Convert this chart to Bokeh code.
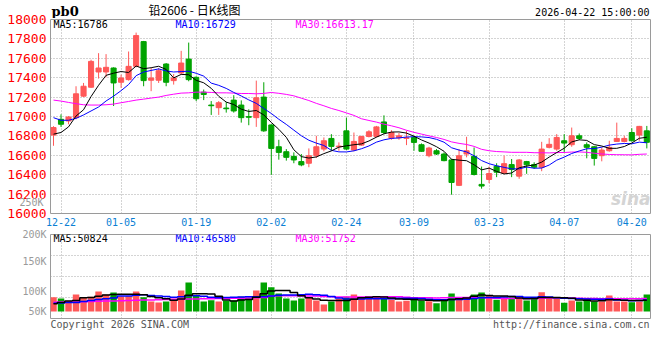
import pandas as pd
from bokeh.plotting import figure
from bokeh.layouts import column
from bokeh.models import ColumnDataSource, Range1d, FixedTicker, Label, LinearAxis
from bokeh.embed import file_html
from bokeh.resources import INLINE

# ---------------- data ----------------
dates = ["12-19", "12-22", "12-23", "12-24", "12-25", "12-26", "12-29", "12-30", "12-31",
         "01-05", "01-06", "01-07", "01-08", "01-09", "01-12", "01-13", "01-14", "01-15", "01-16",
         "01-19", "01-20", "01-21", "01-22", "01-23", "01-26", "01-27", "01-28", "01-29", "01-30",
         "02-02", "02-03", "02-04", "02-05", "02-06", "02-09", "02-10", "02-11", "02-12", "02-13",
         "02-24", "02-25", "02-26", "02-27", "03-02", "03-03", "03-04", "03-05", "03-06",
         "03-09", "03-10", "03-11", "03-12", "03-13", "03-16", "03-17", "03-18", "03-19", "03-20",
         "03-23", "03-24", "03-25", "03-26", "03-27", "03-30", "03-31", "04-01", "04-02", "04-03",
         "04-07", "04-08", "04-09", "04-10", "04-13", "04-14", "04-15", "04-16", "04-17",
         "04-20", "04-21", "04-22"]

opens = [16808, 16971, 16954, 16988, 17210, 17302, 17459, 17459, 17500, 17353,
         17380, 17517, 17772, 17374, 17374, 17541, 17370, 17449, 17592, 17404,
         17251, 17118, 17091, 17087, 17169, 17118, 16999, 16988, 17200, 16913,
         16688, 16637, 16589, 16535, 16518, 16596, 16664, 16774, 16688, 16852,
         16654, 16705, 16794, 16794, 16944, 16777, 16780, 16774, 16784, 16709,
         16596, 16647, 16613, 16552, 16290, 16613, 16589, 16300, 16351, 16487,
         16416, 16504, 16385, 16535, 16504, 16477, 16682, 16664, 16750, 16709,
         16801, 16709, 16688, 16596, 16647, 16743, 16743, 16835, 16808, 16852]
closes = [16886, 16920, 16995, 17234, 17312, 17568, 17500, 17507, 17346, 17397,
          17517, 17834, 17370, 17397, 17472, 17353, 17397, 17551, 17380, 17183,
          17227, 17111, 17142, 17080, 17057, 16988, 16992, 17193, 16852, 16671,
          16630, 16579, 16552, 16501, 16596, 16688, 16750, 16692, 16695, 16664,
          16743, 16794, 16842, 16893, 16835, 16835, 16801, 16780, 16733, 16641,
          16675, 16613, 16545, 16320, 16596, 16647, 16402, 16283, 16412, 16426,
          16514, 16453, 16552, 16502, 16477, 16664, 16713, 16784, 16726, 16801,
          16774, 16682, 16568, 16654, 16682, 16774, 16774, 16750, 16898, 16734]
highs = [16900, 17022, 17005, 17312, 17346, 17585, 17653, 17643, 17507, 17432,
         17670, 17865, 17779, 17500, 17500, 17551, 17438, 17677, 17762, 17414,
         17278, 17159, 17159, 17149, 17220, 17166, 17074, 17370, 17353, 16920,
         16760, 16664, 16630, 16613, 16671, 16801, 16784, 16818, 16733, 16988,
         16835, 16801, 16859, 16903, 17012, 16859, 16830, 16852, 16801, 16722,
         16688, 16664, 16630, 16562, 16664, 16791, 16681, 16484, 16484, 16518,
         16596, 16562, 16562, 16542, 16528, 16739, 16777, 16818, 16818, 16886,
         16825, 16733, 16695, 16681, 16750, 16937, 16801, 16879, 16903, 16903]
lows = [16698, 16893, 16920, 16971, 17200, 17295, 17391, 17404, 17108, 17295,
        17370, 17507, 17312, 17261, 17346, 17312, 17329, 17432, 17363, 17159,
        17169, 17016, 17016, 17040, 17040, 16937, 16910, 16893, 16842, 16399,
        16555, 16545, 16518, 16487, 16477, 16572, 16641, 16647, 16647, 16654,
        16641, 16699, 16784, 16784, 16818, 16760, 16760, 16705, 16647, 16637,
        16579, 16603, 16538, 16194, 16283, 16579, 16392, 16256, 16313, 16375,
        16409, 16375, 16358, 16409, 16460, 16436, 16671, 16647, 16630, 16688,
        16757, 16569, 16494, 16538, 16637, 16739, 16733, 16743, 16750, 16671]
volumes = [67200, 61100, 50300, 79900, 67200, 69100, 94000, 79900, 89300, 70500,
           71900, 94000, 67200, 47000, 42300, 47000, 59700, 98700, 136300, 73800,
           47000, 53100, 47000, 50300, 51700, 69100, 62500, 98700, 136300, 114200,
           84600, 61100, 51700, 61100, 67200, 51700, 32900, 47000, 59700, 69100,
           79900, 67200, 59700, 70500, 62500, 56400, 47000, 50300, 65800, 50300,
           48400, 39000, 57800, 84600, 67200, 67200, 79900, 89300, 73800, 55000,
           65800, 65800, 59700, 51700, 59700, 90700, 67200, 62500, 40900, 51700,
           47000, 59700, 47000, 47000, 75200, 47000, 47000, 43700, 47000, 79900]

# moving-average values before enough history is visible
ma5_head = [16818, 16835, 16893, 17005]
ma10_head = [16988, 16961, 16961, 16981, 17016, 17057, 17098, 17160, 17210]
ma30_head = [17169, 17159, 17145, 17132, 17121, 17118, 17118, 17121, 17128, 17142,
             17155, 17169, 17179, 17190, 17200, 17217, 17230, 17241, 17244, 17251,
             17251, 17248, 17244, 17244, 17241, 17237, 17237, 17234, 17238]
vma5_head = [36200, 42300, 49400, 51700]
vma10_head = [39000, 40000, 42300, 42300, 47000, 51700, 56400, 60000, 64000]
vma30_head = [43700, 44200, 44700, 45100, 46100, 47000, 47900, 48900, 49800, 50800,
              51700, 52600, 53600, 54500, 55500, 56400, 57300, 57800, 58300, 58800,
              59700, 60200, 60600, 61100, 62000, 62500, 63500, 64400, 65800]

price_ticks = [16000, 16200, 16400, 16600, 16800, 17000, 17200, 17400, 17600, 17800, 18000]
date_ticks = ["12-22", "01-05", "01-19", "02-02", "02-24", "03-09", "03-23", "04-07", "04-20"]

title_code = "pb0"
title_name = "铅2606 - 日K线图"
stamp = "2026-04-22 15:00:00"
ma_price_text = ["MA5:16786", "MA10:16729", "MA30:16613.17"]
ma_vol_text = ["MA5:50824", "MA10:46580", "MA30:51752"]
vol_labels = ["250K", "200K", "150K", "100K", "50K"]
copyright_text = "Copyright 2026 SINA.COM"
url_text = "http://finance.sina.com.cn"

# ---------------- derived ----------------
RED, GREEN = "#ff5858", "#00a300"
GRID = "#a8a8a8"
FRAME = "#9a9a9a"
MONO = "DejaVu Sans Mono"
n = len(dates)
xs = list(range(n))
colors = [RED if c >= o else GREEN for o, c in zip(opens, closes)]


def moving(vals, w, head):
    m = pd.Series(vals, dtype=float).rolling(w).mean().tolist()
    m[:len(head)] = head
    return m


src = ColumnDataSource(dict(
    x=xs, o=opens, h=highs, l=lows, c=closes,
    top=[max(a, b) for a, b in zip(opens, closes)],
    bot=[min(a, b) for a, b in zip(opens, closes)],
    color=colors, vol=volumes,
    ma5=moving(closes, 5, ma5_head), ma10=moving(closes, 10, ma10_head),
    ma30=moving(closes, 30, ma30_head),
    vma5=moving(volumes, 5, vma5_head), vma10=moving(volumes, 10, vma10_head),
    vma30=moving(volumes, 30, vma30_head),
))

xr = Range1d(-0.4, n - 1 + 0.49)
tick_pos = [dates.index(d) for d in date_ticks]

COMMON = dict(output_backend="svg", toolbar_location=None, title_location=None,
              background_fill_color="white", border_fill_color=None,
              frame_width=600, min_border_left=50, min_border_right=10)


def strip(height, y_top):
    """Text strip whose frame spans the chart columns; data units are page pixels."""
    return figure(frame_height=height, x_range=Range1d(50, 650),
                  y_range=Range1d(y_top + height, y_top), x_axis_type=None, y_axis_type=None,
                  min_border_top=0, min_border_bottom=0, outline_line_color=None, **COMMON)


def lab(fig, x, y, text, color="#000000", size="10px", font=MONO, align="left",
        style="normal", units="screen"):
    fig.add_layout(Label(x=x, y=y, x_units=units, y_units=units, text=text,
                         text_color=color, text_font=font, text_font_size=size,
                         text_align=align, text_baseline="middle", text_font_style=style))


def bare(ax):
    ax.axis_line_color = None
    ax.major_tick_line_color = None
    ax.minor_tick_line_color = None
    ax.major_tick_out = 0
    ax.major_tick_in = 0
    ax.minor_tick_out = 0


# ---------------- header ----------------
head = strip(18, 0)
lab(head, 51, 10.5, title_code, size="13px", font="DejaVu Serif", style="bold", units="data")
lab(head, 194, 9.3, title_name, size="12px", font="Noto Sans CJK SC", align="center", units="data")
lab(head, 649, 11.5, stamp, align="right", units="data")

# ---------------- price panel ----------------
# the panel's (transparent) top margin slides under the header so the top tick label has room
p1 = figure(frame_height=194, x_range=xr, y_range=Range1d(price_ticks[0], price_ticks[-1]),
            min_border_top=8, min_border_bottom=15, margin=(-7, 0, 0, 0),
            outline_line_color=FRAME, outline_line_width=1, **COMMON)

pax = p1.yaxis[0]
pax.ticker = FixedTicker(ticks=price_ticks)
pax.major_label_text_color = "#ff0000"
pax.major_label_text_font = MONO
pax.major_label_text_font_size = "13px"
pax.major_label_standoff = 4
bare(pax)
xax = p1.xaxis[0]
xax.ticker = FixedTicker(ticks=tick_pos)
xax.major_label_overrides = {p: d for p, d in zip(tick_pos, date_ticks)}
xax.major_label_text_color = "#0b7fd4"
xax.major_label_text_font = MONO
xax.major_label_text_font_size = "10px"
xax.major_label_standoff = 4
bare(xax)
for g in (p1.xgrid, p1.ygrid):
    g.grid_line_color = GRID
    g.grid_line_dash = "1 2"
p1.xgrid.ticker = FixedTicker(ticks=tick_pos)
p1.ygrid.ticker = FixedTicker(ticks=price_ticks)

# gray volume-scale label that Sina prints inside the price panel's left margin
pix_price = (price_ticks[-1] - price_ticks[0]) / 194.0
t250 = price_ticks[0] + (213 - 202) * pix_price
vax = LinearAxis(ticker=FixedTicker(ticks=[t250]), major_label_overrides={t250: vol_labels[0]},
                 major_label_text_color="#9a9a9a", major_label_text_font=MONO,
                 major_label_text_font_size="10px", major_label_standoff=-39)
bare(vax)
p1.add_layout(vax, "left")

p1.segment(x0="x", y0="h", x1="x", y1="l", color="color", line_width=1, source=src)
p1.vbar(x="x", width=0.68, top="top", bottom="bot", fill_color="color",
        line_color="color", line_width=1, source=src)
p1.line("x", "ma30", color="#ff00ff", line_width=1, source=src)
p1.line("x", "ma10", color="#0000ff", line_width=1, source=src)
p1.line("x", "ma5", color="#000000", line_width=1, source=src)

lab(p1, 3, 189, ma_price_text[0], color="#000000")
lab(p1, 125, 189, ma_price_text[1], color="#0000ff")
lab(p1, 245, 189, ma_price_text[2], color="#ff00ff")
lab(p1, 600, 15, "sina", color="#d4d4d4", size="17px", font="DejaVu Sans",
    align="right", style="bold italic")

# ---------------- volume panel ----------------
VPX = 4700          # volume units per pixel of the volume panel
vtop = (311 - 234) * VPX
vbot = (311 - 318) * VPX
p2 = figure(frame_height=84, x_range=xr, y_range=Range1d(vbot, vtop),
            min_border_top=6, min_border_bottom=1,
            outline_line_color=FRAME, outline_line_width=1, **COMMON)
p2.xaxis.visible = False
vl_pos = [vtop, (311 - 260.5) * VPX, (311 - 290.5) * VPX, (311 - 310.5) * VPX]
yax2 = p2.yaxis[0]
yax2.ticker = FixedTicker(ticks=vl_pos)
yax2.major_label_overrides = {p: t for p, t in zip(vl_pos, vol_labels[1:])}
yax2.major_label_text_color = "#9a9a9a"
yax2.major_label_text_font = MONO
yax2.major_label_text_font_size = "10px"
yax2.major_label_standoff = 4
bare(yax2)
span = vtop - vbot
p2.ygrid.ticker = FixedTicker(ticks=[vbot + span * k / 4 for k in (1, 2, 3)])
p2.xgrid.ticker = FixedTicker(ticks=tick_pos)
for g in (p2.xgrid, p2.ygrid):
    g.grid_line_color = GRID
    g.grid_line_dash = "1 2"

p2.vbar(x="x", width=0.86, top="vol", bottom=0, fill_color="color", line_color=None, source=src)
p2.step("x", "vma30", mode="center", color="#ff00ff", line_width=1.5, source=src)
p2.step("x", "vma10", mode="center", color="#0000ff", line_width=1.5, source=src)
p2.step("x", "vma5", mode="center", color="#000000", line_width=1.5, source=src)

lab(p2, 3, 79.7, ma_vol_text[0], color="#000000")
lab(p2, 125, 79.7, ma_vol_text[1], color="#0000ff")
lab(p2, 245, 79.7, ma_vol_text[2], color="#ff00ff")

# ---------------- footer ----------------
foot = strip(17, 319)
lab(foot, 50, 323.7, copyright_text, color="#555555", units="data")
lab(foot, 649, 323.7, url_text, color="#555555", align="right", units="data")

layout = column(head, p1, p2, foot, spacing=0)
open("out.html", "w").write(file_html(layout, INLINE))
